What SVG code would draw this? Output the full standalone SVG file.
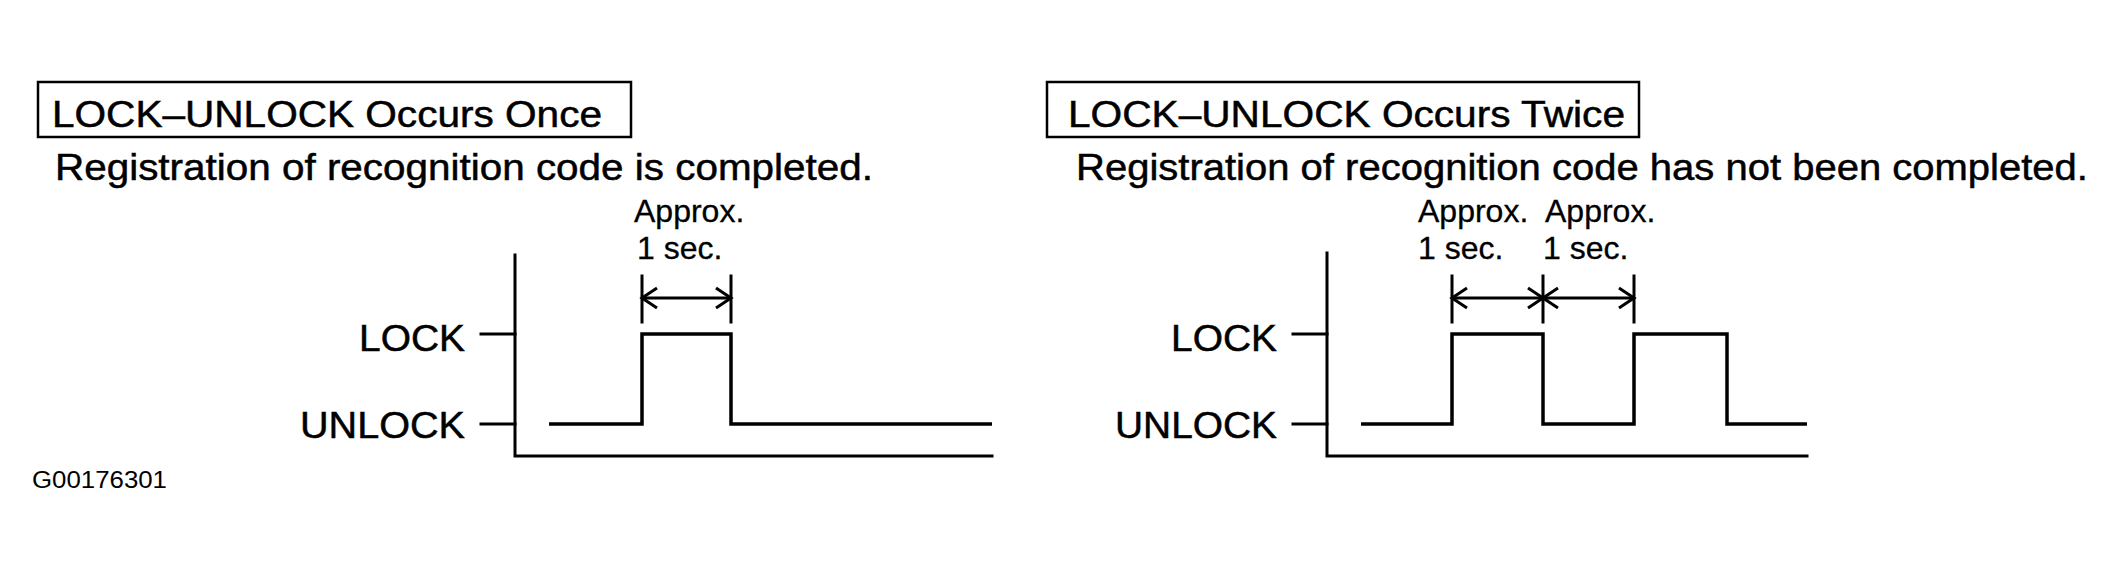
<svg xmlns="http://www.w3.org/2000/svg" width="2126" height="562" viewBox="0 0 2126 562">
<defs>
<style>
text{font-family:"Liberation Sans",Arial,sans-serif;fill:#000}
.big{font-size:37px;stroke:#000;stroke-width:0.5}
.mid{font-size:37px;stroke:#000;stroke-width:0.5}
.sm{font-size:32px;stroke:#000;stroke-width:0.3}
.code{font-size:23px}
.ln{fill:none;stroke:#000;stroke-width:3;stroke-linecap:square}
.sig{fill:none;stroke:#000;stroke-width:3.5}
.box{fill:none;stroke:#000;stroke-width:2.5}
.dim{fill:none;stroke:#000;stroke-width:3;marker-start:url(#ah);marker-end:url(#ah)}
</style>
<marker id="ah" viewBox="-17 -12 20 24" refX="0" refY="0" markerWidth="20" markerHeight="24" markerUnits="userSpaceOnUse" orient="auto-start-reverse" overflow="visible">
<path d="M-15,-10 L0,0 L-15,10" fill="none" stroke="#000" stroke-width="3"/>
</marker>
</defs>
<rect width="2126" height="562" fill="#fff"/>
<g id="left-panel">
<g id="left-title">
<rect class="box" x="38" y="82" width="593" height="55"/>
<text class="big" x="52" y="127" textLength="550" lengthAdjust="spacingAndGlyphs">LOCK–UNLOCK Occurs Once</text>
</g>
<text id="left-caption" class="big" x="55" y="180" textLength="818" lengthAdjust="spacingAndGlyphs">Registration of recognition code is completed.</text>
<g id="left-labels">
<text class="sm" x="634" y="222">Approx.</text>
<text class="sm" x="637" y="259">1 sec.</text>
<text class="mid" x="465" y="351" text-anchor="end" textLength="106" lengthAdjust="spacingAndGlyphs">LOCK</text>
<text class="mid" x="465" y="438" text-anchor="end" textLength="165" lengthAdjust="spacingAndGlyphs">UNLOCK</text>
</g>
<g id="left-axes">
<path class="ln" d="M515 255 V456 H992"/>
<path class="ln" d="M481 334 H515 M481 424 H515"/>
</g>
<path id="left-signal" class="sig" d="M549 424 H642 V334 H731 V424 H992"/>
</g>
<g id="right-panel">
<g id="right-title">
<rect class="box" x="1047" y="82" width="592" height="55"/>
<text class="big" x="1068" y="127" textLength="557" lengthAdjust="spacingAndGlyphs">LOCK–UNLOCK Occurs Twice</text>
</g>
<text id="right-caption" class="big" x="1076" y="180" textLength="1012" lengthAdjust="spacingAndGlyphs">Registration of recognition code has not been completed.</text>
<g id="right-labels">
<text class="sm" x="1418" y="222">Approx.</text>
<text class="sm" x="1545" y="222">Approx.</text>
<text class="sm" x="1418" y="259">1 sec.</text>
<text class="sm" x="1543" y="259">1 sec.</text>
<text class="mid" x="1277" y="351" text-anchor="end" textLength="106" lengthAdjust="spacingAndGlyphs">LOCK</text>
<text class="mid" x="1277" y="438" text-anchor="end" textLength="162" lengthAdjust="spacingAndGlyphs">UNLOCK</text>
</g>
<g id="right-axes">
<path class="ln" d="M1327 253 V456 H1807"/>
<path class="ln" d="M1293 334 H1327 M1293 424 H1327"/>
</g>
<path id="right-signal" class="sig" d="M1361 424 H1452 V334 H1543 V424 H1634 V334 H1727 V424 H1807"/>
</g>
<g id="connectors">
<path class="ln" d="M642 276 V322 M731 276 V322"/>
<path class="dim" d="M642 298 H731"/>
<path class="ln" d="M1452 276 V322 M1543 276 V322 M1634 276 V322"/>
<path class="dim" d="M1452 298 H1543"/>
<path class="dim" d="M1543 298 H1634"/>
</g>
<text id="code" class="code" x="32" y="488" textLength="135" lengthAdjust="spacingAndGlyphs">G00176301</text>
</svg>
